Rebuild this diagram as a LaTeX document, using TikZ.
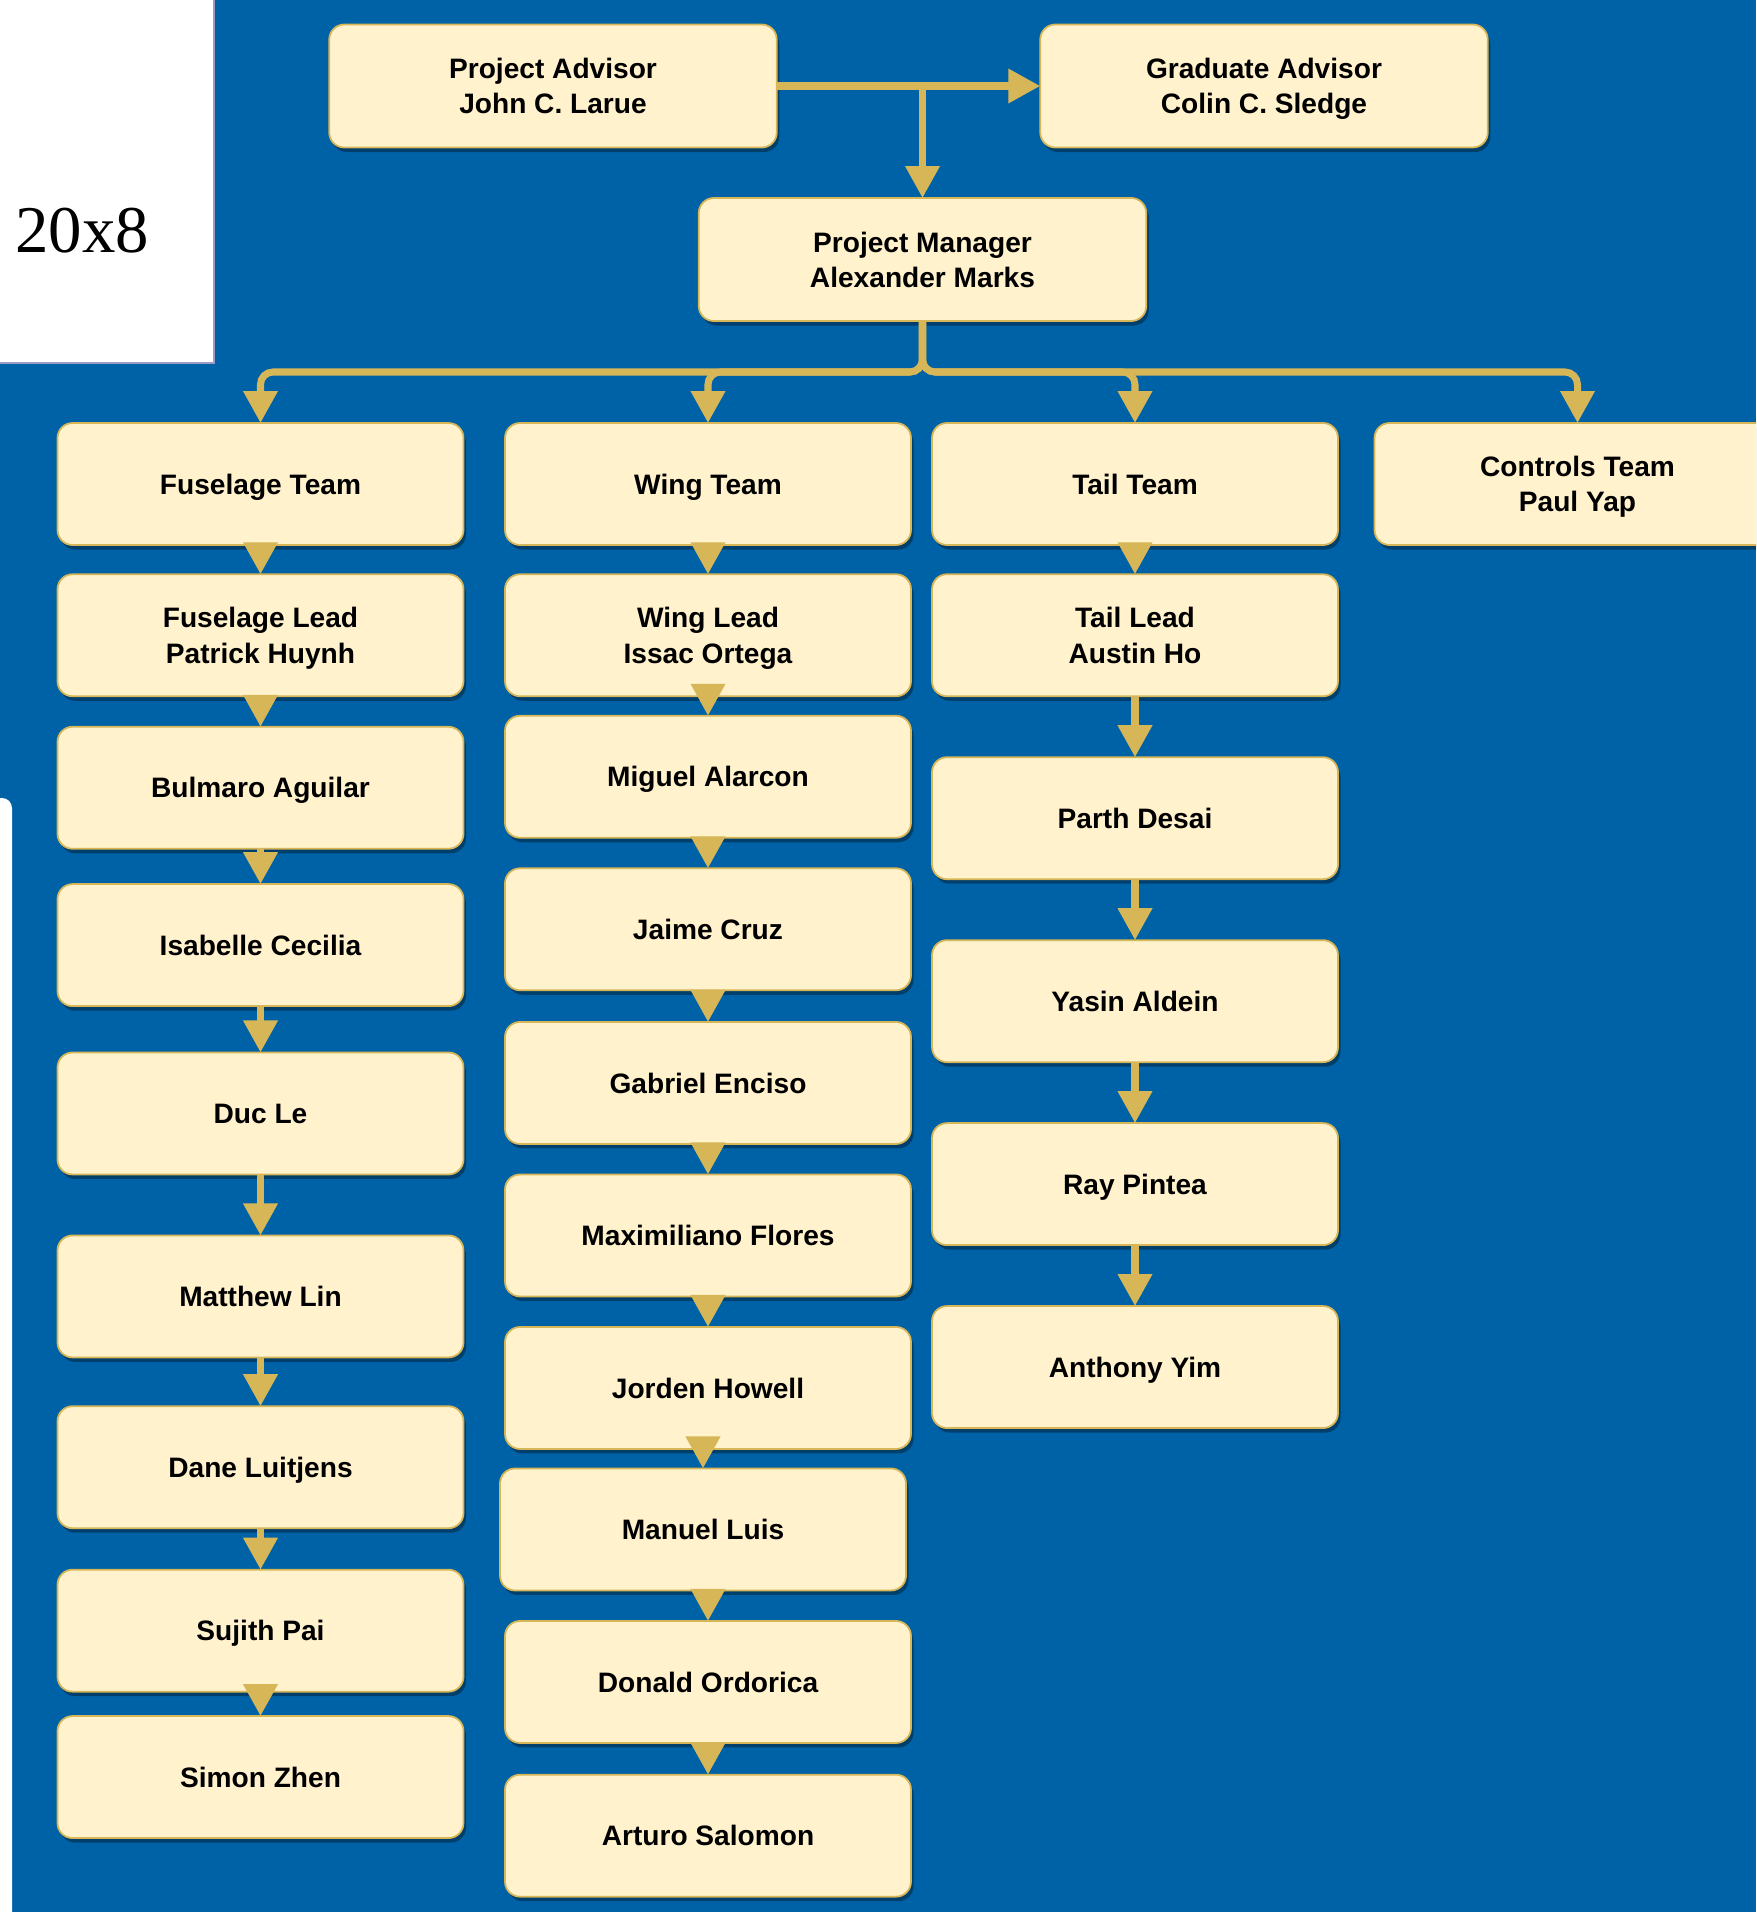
\documentclass[tikz,border=0pt]{standalone}
\usepackage{fontspec}
\setmainfont{Liberation Sans}
\newfontfamily\serifface{Liberation Serif}
\usepackage{tikz}
\usetikzlibrary{positioning,arrows.meta,shadows}

\definecolor{bgblue}{HTML}{0062A6}
\definecolor{boxfill}{HTML}{FFF2CC}
\definecolor{boxline}{HTML}{D6B656}

\begin{document}
\begin{tikzpicture}[
  member/.style={draw=boxline, line width=1pt, fill=boxfill, rounded corners=0.3cm,
    minimum width=8.12cm, minimum height=2.44cm, outer sep=0pt, align=center,
    text depth=0pt, font=\bfseries\fontsize{16}{20}\selectfont,
    drop shadow={shadow xshift=0.05cm, shadow yshift=-0.09cm, opacity=0.35, fill=black}},
  head/.style={member, minimum width=8.95cm, minimum height=2.46cm},
  link/.style={draw=boxline, line width=4pt, -{Triangle[width=0.66cm,length=0.64cm]}},
  bus/.style={link, rounded corners=0.25cm}
]

  % Page and background
  \clip (0,0) rectangle (35.12,-38.24);
  \fill[bgblue] (0,0) rectangle (35.12,-38.24);
  \begin{scope}
    \clip (0,0) rectangle (4.28,-7.26);
    \fill[white] (0,0) rectangle (4.28,-7.26);
    \node[anchor=base east, inner sep=0pt, font=\serifface\fontsize{38}{40}\selectfont] (size) at (2.99,-5.05) {n 20x8};
  \end{scope}
  \draw[blue!30!gray!60, line width=0.6pt] (4.28,0.1) |- (-0.1,-7.26);
  \fill[white, rounded corners=0.2cm] (-0.4,-15.96) rectangle (0.24,-38.6);

  % Define nodes
  \node[head] (pa) at (11.06,-1.72) {Project Advisor\\John C. Larue}; %
  \node[head, right=5.27cm of pa] (ga) {Graduate Advisor\\Colin C. Sledge}; %
  \node[head] (pm) at (18.45,-5.19) {Project Manager\\Alexander Marks}; %

  \node[member] (fus) at (5.21,-9.68) {Fuselage Team};
  \node[member, right=0.83cm of fus] (wing) {Wing Team};
  \node[member, right=0.42cm of wing] (tail) {Tail Team};
  \node[member, right=0.73cm of tail] (ctrl) {Controls Team\\Paul Yap};

  % Fuselage
  \node[member, below=0.585cm of fus] (f1) {Fuselage Lead\\Patrick Huynh};
  \node[member, below=0.61cm of f1] (f2) {Bulmaro Aguilar};
  \node[member, below=0.707cm of f2] (f3) {Isabelle Cecilia};
  \node[member, below=0.927cm of f3] (f4) {Duc Le};
  \node[member, below=1.219cm of f4] (f5) {Matthew Lin};
  \node[member, below=0.976cm of f5] (f6) {Dane Luitjens};
  \node[member, below=0.829cm of f6] (f7) {Sujith Pai};
  \node[member, below=0.488cm of f7] (f8) {Simon Zhen};

  % Wing
  \node[member, below=0.585cm of wing] (w1) {Wing Lead\\Issac Ortega};
  \node[member, below=0.39cm of w1] (w2) {Miguel Alarcon};
  \node[member, below=0.61cm of w2] (w3) {Jaime Cruz};
  \node[member, below=0.634cm of w3] (w4) {Gabriel Enciso};
  \node[member, below=0.61cm of w4] (w5) {Maximiliano Flores};
  \node[member, below=0.61cm of w5] (w6) {Jorden Howell};
  \node[member, below=0.39cm of w6, xshift=-0.1cm] (w7) {Manuel Luis};
  \node[member, below=0.61cm of w7, xshift=0.1cm] (w8) {Donald Ordorica};
  \node[member, below=0.634cm of w8] (w9) {Arturo Salomon};

  % Tail
  \node[member, below=0.585cm of tail] (t1) {Tail Lead\\Austin Ho};
  \node[member, below=1.219cm of t1] (t2) {Parth Desai};
  \node[member, below=1.219cm of t2] (t3) {Yasin Aldein};
  \node[member, below=1.219cm of t3] (t4) {Ray Pintea};
  \node[member, below=1.219cm of t4] (t5) {Anthony Yim};

  % Links
  \draw[link] (pa) -- (ga);
  \draw[link] (pa.east) -| (pm.north);
  \coordinate[below=1.02cm of pm] (split);
  \draw[bus] (pm.south) -- (split) -| (fus.north);
  \draw[bus] (pm.south) -- (split) -| (wing.north);
  \draw[bus] (pm.south) -- (split) -| (tail.north);
  \draw[bus] (pm.south) -- (split) -| (ctrl.north);

  \draw[link] (fus) -- (f1); \draw[link] (f1) -- (f2); \draw[link] (f2) -- (f3);
  \draw[link] (f3) -- (f4); \draw[link] (f4) -- (f5); \draw[link] (f5) -- (f6);
  \draw[link] (f6) -- (f7); \draw[link] (f7) -- (f8);

  \draw[link] (wing) -- (w1); \draw[link] (w1) -- (w2); \draw[link] (w2) -- (w3);
  \draw[link] (w3) -- (w4); \draw[link] (w4) -- (w5); \draw[link] (w5) -- (w6);
  \draw[link] (w6.south -| w7.north) -- (w7.north);
  \draw[link] (w7.south -| w8.north) -- (w8.north);
  \draw[link] (w8) -- (w9);

  \draw[link] (tail) -- (t1); \draw[link] (t1) -- (t2); \draw[link] (t2) -- (t3);
  \draw[link] (t3) -- (t4); \draw[link] (t4) -- (t5);

\end{tikzpicture}
\end{document}
